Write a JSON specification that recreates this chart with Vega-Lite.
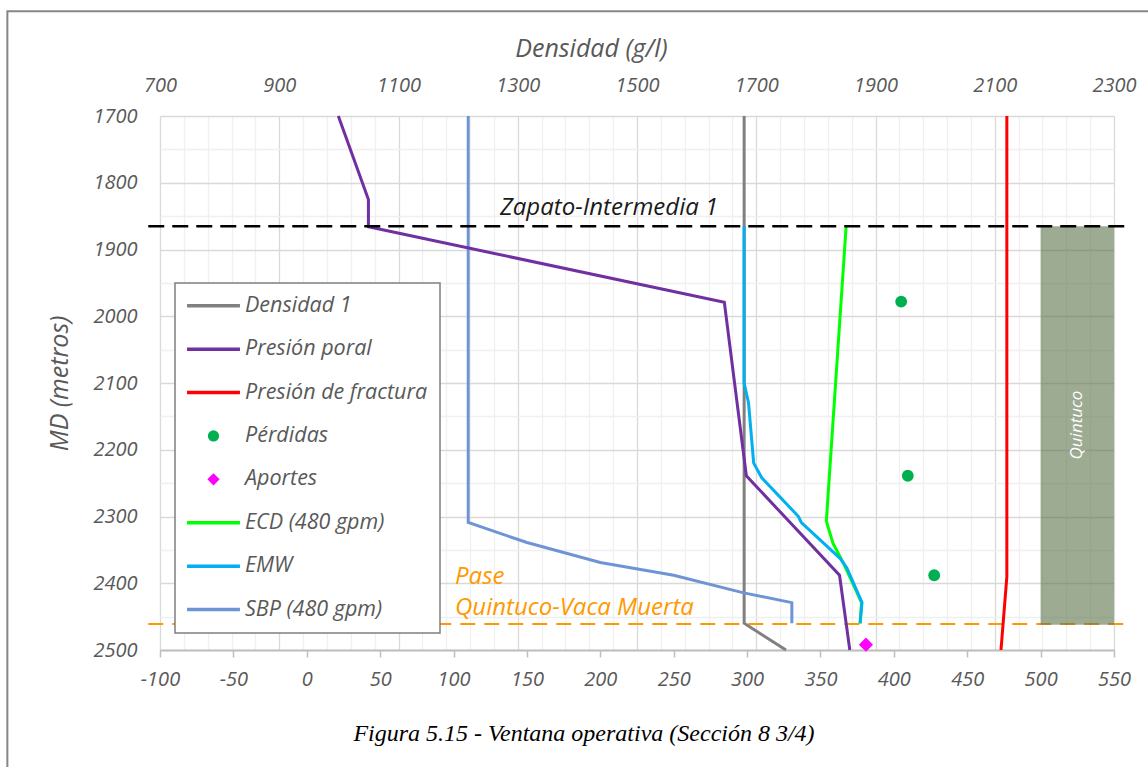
{
  "$schema": "https://vega.github.io/schema/vega-lite/v6.json",
  "width": 954,
  "height": 534,
  "autosize": "none",
  "padding": {"left": 160, "top": 116, "right": 34, "bottom": 117},
  "background": "white",
  "config": {
    "view": {"stroke": null},
    "font": "Open Sans",
    "text": {"font": "Open Sans"}
  },
  "title": {
    "text": "Figura 5.15 - Ventana operativa (Sección 8 3/4)",
    "orient": "bottom",
    "anchor": "middle",
    "font": "Liberation Serif",
    "fontStyle": "italic",
    "fontWeight": "normal",
    "fontSize": 24,
    "color": "#000000",
    "dx": -53,
    "offset": -48
  },
  "datasets": {
    "series": [
      {"serie": "Densidad 1", "x": 298, "md": 1700},
      {"serie": "Densidad 1", "x": 298, "md": 2460},
      {"serie": "Densidad 1", "x": 326.5, "md": 2500},
      {"serie": "Presión poral", "x": 21.5, "md": 1700},
      {"serie": "Presión poral", "x": 42, "md": 1825},
      {"serie": "Presión poral", "x": 42, "md": 1866},
      {"serie": "Presión poral", "x": 284.5, "md": 1979},
      {"serie": "Presión poral", "x": 299.5, "md": 2239},
      {"serie": "Presión poral", "x": 363, "md": 2388},
      {"serie": "Presión poral", "x": 370, "md": 2500},
      {"serie": "Presión de fractura", "x": 477, "md": 1700},
      {"serie": "Presión de fractura", "x": 477, "md": 2390},
      {"serie": "Presión de fractura", "x": 473, "md": 2500},
      {"serie": "ECD (480 gpm)", "x": 367.5, "md": 1865},
      {"serie": "ECD (480 gpm)", "x": 354, "md": 2307},
      {"serie": "ECD (480 gpm)", "x": 358.5, "md": 2340},
      {"serie": "ECD (480 gpm)", "x": 365.5, "md": 2369},
      {"serie": "ECD (480 gpm)", "x": 372, "md": 2400},
      {"serie": "ECD (480 gpm)", "x": 378, "md": 2429},
      {"serie": "ECD (480 gpm)", "x": 377, "md": 2460},
      {"serie": "EMW", "x": 298, "md": 1865},
      {"serie": "EMW", "x": 298, "md": 2100},
      {"serie": "EMW", "x": 301, "md": 2130},
      {"serie": "EMW", "x": 304.5, "md": 2220},
      {"serie": "EMW", "x": 310, "md": 2242},
      {"serie": "EMW", "x": 335, "md": 2300},
      {"serie": "EMW", "x": 337, "md": 2309},
      {"serie": "EMW", "x": 363.5, "md": 2363},
      {"serie": "EMW", "x": 368, "md": 2377},
      {"serie": "EMW", "x": 378.3, "md": 2429},
      {"serie": "EMW", "x": 377, "md": 2460},
      {"serie": "SBP (480 gpm)", "x": 110, "md": 1700},
      {"serie": "SBP (480 gpm)", "x": 110, "md": 2309},
      {"serie": "SBP (480 gpm)", "x": 150, "md": 2339},
      {"serie": "SBP (480 gpm)", "x": 200, "md": 2369},
      {"serie": "SBP (480 gpm)", "x": 250, "md": 2388},
      {"serie": "SBP (480 gpm)", "x": 297, "md": 2414},
      {"serie": "SBP (480 gpm)", "x": 330.5, "md": 2429},
      {"serie": "SBP (480 gpm)", "x": 330.5, "md": 2460},
      {"serie": "Pérdidas", "x": 405, "md": 1978},
      {"serie": "Pérdidas", "x": 409.5, "md": 2239},
      {"serie": "Pérdidas", "x": 427.5, "md": 2388},
      {"serie": "Aportes", "x": 381, "md": 2492}
    ],
    "referencias": [
      {"tipo": "zapato", "md": 1865, "x": -108, "x2": 560},
      {"tipo": "pase", "md": 2461, "x": -108, "x2": 560}
    ],
    "formaciones": [
      {"nombre": "Quintuco", "x": 500, "x2": 550, "md": 1865, "md2": 2462}
    ],
    "etiquetas": [
      {"grupo": "zapato", "texto": "Zapato-Intermedia 1", "x": 206, "md": 1838},
      {"grupo": "pase", "texto": "Pase", "x": 101, "md": 2391},
      {"grupo": "pase", "texto": "Quintuco-Vaca Muerta", "x": 101, "md": 2437},
      {"grupo": "formacion", "texto": "Quintuco", "x": 525, "md": 2163}
    ],
    "marco": [
      {"x": -204, "x2": 575, "md": 1543, "md2": 2678}
    ],
    "escala": [
      {"g": 700},
      {"g": 2300}
    ]
  },
  "layer": [
    {
      "encoding": {
        "x": {
          "field": "x", "type": "quantitative",
          "scale": {"domain": [-100, 550], "nice": false, "zero": false},
          "axis": {
            "orient": "bottom",
            "values": [-100, -50, 0, 50, 100, 150, 200, 250, 300, 350, 400, 450, 500, 550],
            "format": "d",
            "labelExpr": "replace(datum.label, '\u2212', '-')",
            "labelFlush": false,
            "labelOverlap": false,
            "grid": false,
            "domainColor": "#bfbfbf",
            "domainWidth": 2,
            "ticks": true,
            "tickColor": "#bfbfbf",
            "tickWidth": 1.5,
            "tickSize": 7,
            "labelPadding": 12,
            "labelFont": "Open Sans",
            "labelFontStyle": "italic",
            "labelFontSize": 20,
            "labelColor": "#595959",
            "title": null
          }
        },
        "y": {
          "field": "md", "type": "quantitative",
          "scale": {"domain": [1700, 2500], "reverse": true, "nice": false, "zero": false},
          "axis": {
            "orient": "left",
            "values": [1700, 1750, 1800, 1850, 1900, 1950, 2000, 2050, 2100, 2150, 2200, 2250, 2300, 2350, 2400, 2450, 2500],
            "format": "d",
            "labelExpr": "datum.value % 100 === 0 ? datum.label : ''",
            "labelFlush": false,
            "labelOverlap": false,
            "grid": true,
            "gridColor": {"condition": {"test": "datum.value % 100 === 0", "value": "#d9d9d9"}, "value": "#f0f0f0"},
            "gridWidth": 1.3,
            "domain": false,
            "ticks": false,
            "tickSize": 0,
            "labelPadding": 23,
            "labelFont": "Open Sans",
            "labelFontStyle": "italic",
            "labelFontSize": 20,
            "labelColor": "#595959",
            "title": "MD (metros)",
            "titleFont": "Open Sans",
            "titleFontStyle": "italic",
            "titleFontWeight": "normal",
            "titleFontSize": 25,
            "titleColor": "#595959",
            "titlePadding": 20
          }
        }
      },
      "layer": [
        {
          "data": {"name": "marco"},
          "mark": {"type": "rect", "fill": null, "fillOpacity": 0, "stroke": "#868686", "strokeWidth": 2},
          "encoding": {
            "x2": {"field": "x2"},
            "y2": {"field": "md2"}
          }
        },
        {
          "data": {"name": "referencias"},
          "transform": [{"filter": "datum.tipo === 'pase'"}],
          "mark": {"type": "rule", "stroke": "#FF9900", "strokeWidth": 2, "strokeDash": [15, 9]},
          "encoding": {
            "x2": {"field": "x2"}
          }
        },
        {
          "data": {"name": "formaciones"},
          "mark": {"type": "rect", "fill": "#5B7349", "opacity": 0.6},
          "encoding": {
            "x2": {"field": "x2"},
            "y2": {"field": "md2"}
          }
        },
        {
          "data": {"name": "etiquetas"},
          "transform": [{"filter": "datum.grupo === 'formacion'"}],
          "mark": {"type": "text", "angle": 270, "color": "white", "font": "Open Sans", "fontStyle": "italic", "fontSize": 17, "align": "center", "baseline": "middle"},
          "encoding": {
            "text": {"field": "texto"}
          }
        },
        {
          "data": {"name": "series"},
          "encoding": {
            "order": {"field": "md", "type": "quantitative"},
            "color": {
              "field": "serie", "type": "nominal",
              "scale": {
                "domain": ["Densidad 1", "Presión poral", "Presión de fractura", "Pérdidas", "Aportes", "ECD (480 gpm)", "EMW", "SBP (480 gpm)"],
                "range": ["#808080", "#7030A0", "#FF0000", "#00B050", "#FF00FF", "#00FF00", "#00B0F0", "#6F94D6"]
              },
              "legend": {
                "orient": "none",
                "legendX": 15,
                "legendY": 167,
                "title": null,
                "padding": 12,
                "fillColor": "white",
                "strokeColor": "#7f7f7f",
                "symbolType": "stroke",
                "symbolSize": 2800,
                "symbolStrokeWidth": 3.5,
                "symbolOpacity": 1,
                "labelFont": "Open Sans",
                "labelFontStyle": "italic",
                "labelFontSize": 21.5,
                "labelColor": "#595959",
                "labelLimit": 400,
                "rowPadding": 20.4,
                "encode": {
                  "symbols": {
                    "update": {
                      "x": {"value": 26.5},
                      "shape": {"signal": "datum.value === 'Pérdidas' ? 'circle' : datum.value === 'Aportes' ? 'diamond' : 'stroke'"},
                      "size": {"signal": "datum.value === 'Pérdidas' ? 127 : datum.value === 'Aportes' ? 150 : 2800"},
                      "fill": {"signal": "(datum.value === 'Pérdidas' || datum.value === 'Aportes') ? scale('color', datum.value) : 'transparent'"},
                      "stroke": {"signal": "scale('color', datum.value)"},
                      "strokeWidth": {"signal": "(datum.value === 'Pérdidas' || datum.value === 'Aportes') ? 0 : 3.5"},
                      "opacity": {"value": 1}
                    }
                  },
                  "labels": {
                    "update": {
                      "x": {"value": 58}
                    }
                  },
                  "legend": {"update": {"strokeWidth": {"value": 1.5}}}
                }
              }
            }
          },
          "layer": [
            {"transform": [{"filter": "datum.serie === 'Densidad 1'"}], "mark": {"type": "line", "strokeWidth": 3}},
            {"transform": [{"filter": "datum.serie === 'SBP (480 gpm)'"}], "mark": {"type": "line", "strokeWidth": 3}},
            {"transform": [{"filter": "datum.serie === 'Presión de fractura'"}], "mark": {"type": "line", "strokeWidth": 3}},
            {"transform": [{"filter": "datum.serie === 'Presión poral'"}], "mark": {"type": "line", "strokeWidth": 3}},
            {"transform": [{"filter": "datum.serie === 'ECD (480 gpm)'"}], "mark": {"type": "line", "strokeWidth": 3}},
            {"transform": [{"filter": "datum.serie === 'EMW'"}], "mark": {"type": "line", "strokeWidth": 3}},
            {"transform": [{"filter": "datum.serie === 'Pérdidas'"}], "mark": {"type": "point", "shape": "circle", "filled": true, "size": 140, "opacity": 1, "strokeWidth": 0}},
            {"transform": [{"filter": "datum.serie === 'Aportes'"}], "mark": {"type": "point", "shape": "diamond", "filled": true, "size": 200, "opacity": 1, "strokeWidth": 0}}
          ]
        },
        {
          "data": {"name": "referencias"},
          "transform": [{"filter": "datum.tipo === 'zapato'"}],
          "mark": {"type": "rule", "stroke": "#000000", "strokeWidth": 2.5, "strokeDash": [16, 8]},
          "encoding": {
            "x2": {"field": "x2"}
          }
        },
        {
          "data": {"name": "etiquetas"},
          "transform": [{"filter": "datum.grupo === 'zapato'"}],
          "mark": {"type": "text", "color": "#1a1a1a", "font": "Open Sans", "fontStyle": "italic", "fontSize": 24, "align": "center", "baseline": "middle"},
          "encoding": {
            "text": {"field": "texto"}
          }
        },
        {
          "data": {"name": "etiquetas"},
          "transform": [{"filter": "datum.grupo === 'pase'"}],
          "mark": {"type": "text", "color": "#FF9900", "font": "Open Sans", "fontStyle": "italic", "fontSize": 24, "align": "left", "baseline": "middle"},
          "encoding": {
            "text": {"field": "texto"}
          }
        }
      ]
    },
    {
      "data": {"name": "escala"},
      "mark": {"type": "point", "opacity": 0},
      "encoding": {
        "x": {
          "field": "g", "type": "quantitative",
          "scale": {"domain": [700, 2300], "nice": false, "zero": false},
          "axis": {
            "orient": "top",
            "values": [700, 740, 780, 820, 860, 900, 940, 980, 1020, 1060, 1100, 1140, 1180, 1220, 1260, 1300, 1340, 1380, 1420, 1460, 1500, 1540, 1580, 1620, 1660, 1700, 1740, 1780, 1820, 1860, 1900, 1940, 1980, 2020, 2060, 2100, 2140, 2180, 2220, 2260, 2300],
            "format": "d",
            "labelExpr": "(datum.value - 700) % 200 === 0 ? datum.label : ''",
            "labelFlush": false,
            "labelOverlap": false,
            "grid": true,
            "gridColor": {"condition": {"test": "(datum.value - 700) % 200 === 0", "value": "#d9d9d9"}, "value": "#f0f0f0"},
            "gridWidth": 1.3,
            "domain": false,
            "ticks": false,
            "tickSize": 0,
            "labelPadding": 21,
            "labelFont": "Open Sans",
            "labelFontStyle": "italic",
            "labelFontSize": 20,
            "labelColor": "#595959",
            "title": "Densidad (g/l)",
            "titleFont": "Open Sans",
            "titleFontStyle": "italic",
            "titleFontWeight": "normal",
            "titleFontSize": 25,
            "titleColor": "#595959",
            "titlePadding": 14,
            "titleX": 431
          }
        }
      }
    }
  ],
  "resolve": {"scale": {"x": "independent"}}
}
